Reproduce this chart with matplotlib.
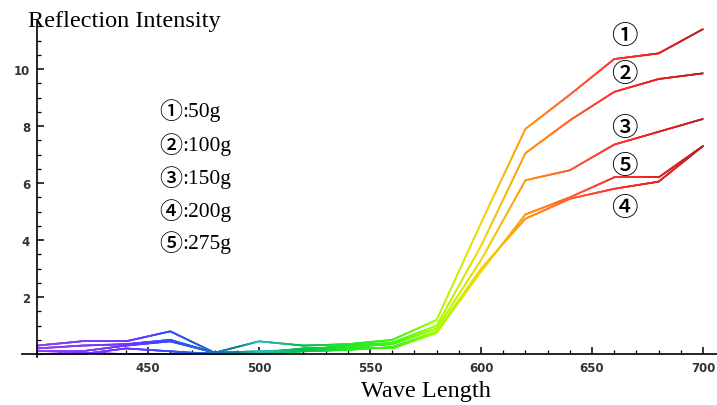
import numpy as np
import matplotlib
matplotlib.use("Agg")
import matplotlib.pyplot as plt
from matplotlib.collections import LineCollection
from matplotlib.colors import LinearSegmentedColormap
from matplotlib.ticker import MultipleLocator

wavelengths = [400, 420, 440, 460, 480, 500, 520, 540, 560, 580, 600, 620, 640, 660, 680, 700]
s1_50g  = [0.30, 0.45, 0.45, 0.80, 0.05, 0.45, 0.30, 0.35, 0.50, 1.20, 4.60, 7.90, 9.10, 10.35, 10.55, 11.40]
s2_100g = [0.20, 0.30, 0.35, 0.50, 0.05, 0.10, 0.15, 0.30, 0.40, 1.00, 3.80, 7.05, 8.20, 9.20, 9.65, 9.85]
s3_150g = [0.10, 0.10, 0.30, 0.45, 0.05, 0.05, 0.20, 0.25, 0.35, 0.90, 3.30, 6.10, 6.45, 7.35, 7.80, 8.25]
s4_200g = [0.00, 0.00, 0.20, 0.10, 0.00, 0.00, 0.10, 0.15, 0.25, 0.80, 3.00, 4.75, 5.45, 5.80, 6.05, 7.30]
s5_275g = [0.00, 0.05, 0.00, 0.00, 0.05, 0.05, 0.15, 0.20, 0.20, 0.75, 2.90, 4.90, 5.50, 6.20, 6.20, 7.30]
series = [s1_50g, s2_100g, s3_150g, s4_200g, s5_275g]
legend_labels = ["①:50g", "②:100g", "③:150g", "④:200g", "⑤:275g"]

# wavelength -> colour
stops = [
    (400, (0.55, 0.25, 0.95)),
    (440, (0.45, 0.20, 1.00)),
    (460, (0.20, 0.30, 1.00)),
    (480, (0.10, 0.45, 0.75)),
    (490, (0.00, 0.55, 0.55)),
    (500, (0.20, 0.72, 0.70)),
    (520, (0.00, 0.75, 0.30)),
    (540, (0.15, 0.90, 0.15)),
    (560, (0.25, 0.95, 0.10)),
    (580, (0.65, 1.00, 0.00)),
    (600, (0.95, 0.85, 0.00)),
    (620, (1.00, 0.60, 0.05)),
    (640, (1.00, 0.38, 0.20)),
    (660, (1.00, 0.20, 0.20)),
    (680, (0.92, 0.12, 0.12)),
    (700, (0.70, 0.15, 0.15)),
]
cmap = LinearSegmentedColormap.from_list(
    "spec", [((w - 400) / 300, c) for w, c in stops])

fig = plt.figure(figsize=(7.17, 4.06), dpi=100)
x0, x1 = 393.2, 706.3
y0, y1 = -0.1, 11.65
ax = fig.add_axes([22 / 717, (406 - 358) / 406, (717 - 22) / 717, (358 - 23) / 406])
ax.set_xlim(x0, x1)
ax.set_ylim(y0, y1)

for s in series:
    xs = np.array(wavelengths, float)
    ys = np.array(s, float)
    xf = np.linspace(400, 700, 1201)
    yf = np.interp(xf, xs, ys)
    pts = np.column_stack([xf, yf]).reshape(-1, 1, 2)
    segs = np.concatenate([pts[:-1], pts[1:]], axis=1)
    lc = LineCollection(segs, cmap=cmap, linewidths=1.3, capstyle="round")
    lc.set_array((0.5 * (xf[:-1] + xf[1:]) - 400) / 300)
    lc.set_clim(0, 1)
    ax.add_collection(lc)

for sp in ["top", "right"]:
    ax.spines[sp].set_visible(False)
ax.spines["left"].set_position(("data", 400))
ax.spines["bottom"].set_position(("data", 0))
ax.spines["left"].set_bounds(y0, y1)
for sp in ["left", "bottom"]:
    ax.spines[sp].set_linewidth(1.2)

ax.xaxis.set_major_locator(MultipleLocator(50))
ax.xaxis.set_minor_locator(MultipleLocator(10))
ax.yaxis.set_major_locator(MultipleLocator(2))
ax.yaxis.set_minor_locator(MultipleLocator(0.5))
ax.set_xticks([450, 500, 550, 600, 650, 700])
ax.set_yticks([2, 4, 6, 8, 10])
ax.tick_params(which="major", direction="in", length=5, width=1.1, labelsize=8.5, pad=5)
ax.tick_params(which="minor", direction="in", length=3, width=0.9)
for lab in ax.get_xticklabels() + ax.get_yticklabels():
    lab.set_fontweight("bold")
    lab.set_color("#333333")

serif = ["Liberation Serif", "DejaVu Serif"]
circ = ["Noto Sans CJK JP", "DejaVu Sans"]
fig.text(28 / 717, 1 - 21 / 406, "Reflection Intensity", family=serif, fontsize=17.5,
         ha="left", va="center")
fig.text(426 / 717, 1 - 392 / 406, "Wave Length", family=serif, fontsize=17.5,
         ha="center", va="center")

rows = [113, 147, 180, 213, 245]
for lab, yy in zip(legend_labels, rows):
    fig.text(159 / 717, 1 - yy / 406, lab[0], family=circ, fontsize=16.5,
             fontweight="medium", ha="left", va="center")
    fig.text(182 / 717, 1 - yy / 406, lab[1:], family=serif, fontsize=15.5,
             ha="left", va="center")

marks = [("①", 37), ("②", 75), ("③", 128), ("⑤", 166), ("④", 208)]
for m, yy in marks:
    fig.text(624 / 717, 1 - yy / 406, m, family=circ, fontsize=19,
             fontweight="medium", ha="center", va="center")

fig.savefig("out.png", dpi=100)
